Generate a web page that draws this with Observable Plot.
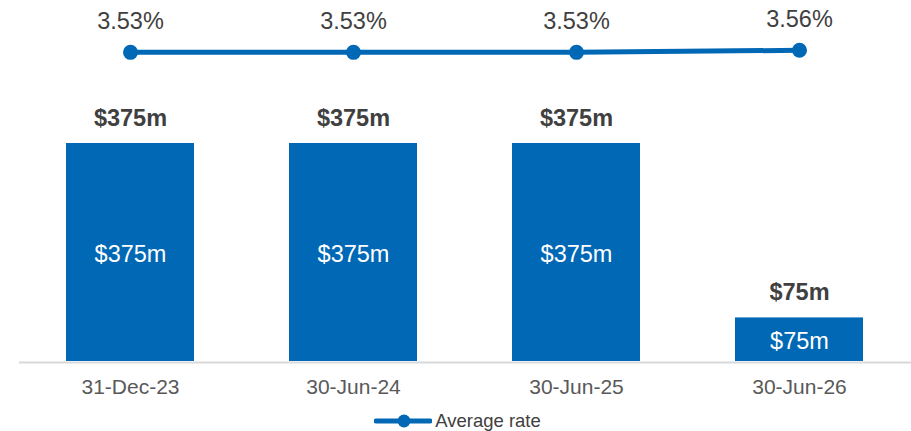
<!DOCTYPE html>
<html>
<head>
<meta charset="utf-8">
<script src="https://cdn.jsdelivr.net/npm/d3@7"></script>
<script src="https://cdn.jsdelivr.net/npm/@observablehq/plot@0.6"></script>
<style>
  body { margin: 0; background: #fff; font-family: "Liberation Sans", Arial, sans-serif; }
  #legend { height: 31px; display: flex; justify-content: center; align-items: flex-start; }
  #legend .item { display: flex; align-items: center; margin-top: 10px; margin-left: 4px; }
  #legend span { font-size: 18.5px; color: #404040; margin-left: 3px; line-height: 22px; }
</style>
</head>
<body>
<div id="chart"></div>
<div id="legend"></div>
<script>
const categories = ["31-Dec-23", "30-Jun-24", "30-Jun-25", "30-Jun-26"];
const amounts = [375, 375, 375, 75];
const amountLabels = ["$375m", "$375m", "$375m", "$75m"];
const rates = [3.53, 3.53, 3.53, 3.56];
const rateLabels = ["3.53%", "3.53%", "3.53%", "3.56%"];
const seriesName = "Average rate";

const blue = "#0068b5";

// secondary (rate) axis mapped onto the primary value scale
const rateToY = d3.scaleLinear().domain([3.0, 3.6]).range([470, 540]);

const data = categories.map((c, i) => ({
  cat: c, amount: amounts[i], amountLabel: amountLabels[i],
  rate: rates[i], rateY: rateToY(rates[i]), rateLabel: rateLabels[i]
}));

const chart = Plot.plot({
  width: 911,
  height: 400,
  marginLeft: 19,
  marginRight: 0,
  marginTop: 0,
  marginBottom: 39,
  style: { fontFamily: "'Liberation Sans', Arial, sans-serif", overflow: "visible", background: "#fff" },
  x: { type: "band", domain: categories, paddingInner: 0.426, paddingOuter: 0.213, label: null },
  y: { domain: [0, 621], axis: null },
  marks: [
    Plot.barY(data, { x: "cat", y: "amount", fill: blue }),
    Plot.ruleY([0], { stroke: "#d9d9d9", strokeWidth: 2, dy: 1 }),
    Plot.axisX({ tickSize: 0, tickPadding: 18, fontSize: 21, color: "#595959", label: null }),
    Plot.text(data, { x: "cat", y: "amount", text: "amountLabel", dy: -25, fontSize: 23.5, fontWeight: "bold", fill: "#404040" }),
    Plot.text(data, { x: "cat", y: d => d.amount / 2, text: "amountLabel", dy: 2, fontSize: 23.5, fill: "#ffffff" }),
    Plot.line(data, { x: "cat", y: "rateY", stroke: blue, strokeWidth: 5 }),
    Plot.dot(data, { x: "cat", y: "rateY", r: 7.5, fill: blue }),
    Plot.text(data, { x: "cat", y: "rateY", text: "rateLabel", dy: -31, fontSize: 23.5, fill: "#404040" })
  ]
});
document.getElementById("chart").appendChild(chart);

const legend = document.getElementById("legend");
legend.innerHTML = `<div class="item"><svg width="58" height="16" viewBox="0 0 58 16">
  <line x1="2" y1="8" x2="56" y2="8" stroke="${blue}" stroke-width="5" stroke-linecap="round"/>
  <circle cx="30" cy="8" r="6.5" fill="${blue}"/></svg><span>${seriesName}</span></div>`;
</script>
</body>
</html>
